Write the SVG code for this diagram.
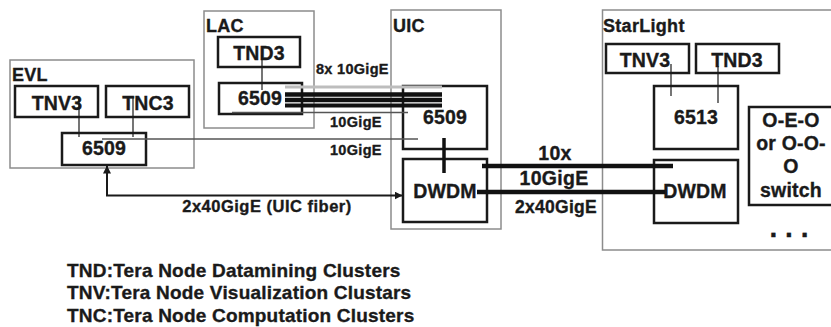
<svg xmlns="http://www.w3.org/2000/svg" width="831" height="327" viewBox="0 0 831 327">
<style>
text{font-family:"Liberation Sans",Arial,sans-serif;font-weight:bold;fill:#1a1a1a;stroke:#1a1a1a;stroke-width:0.35}
.site{fill:none;stroke:#8c8c8c;stroke-width:1.5}
.box{fill:#fff;stroke:#1a1a1a;stroke-width:2.5}
.lbl{font-size:19.5px;letter-spacing:0.2px;text-anchor:middle}
.title{font-size:18px;letter-spacing:0.3px}
.link{font-size:14.5px;letter-spacing:0.3px}
.big{font-size:19.5px;letter-spacing:0.3px;text-anchor:middle}
.leg{font-size:19px;letter-spacing:0.2px}
.thin{stroke:#1a1a1a;stroke-width:1.2;fill:none}
.gline{stroke:#555;stroke-width:1.5;fill:none}
.thick{stroke:#111;stroke-width:4.5;fill:none}
</style>
<defs>
<marker id="ah" viewBox="0 0 8 8" refX="8" refY="4" markerWidth="8" markerHeight="8" markerUnits="userSpaceOnUse" orient="auto-start-reverse">
<path d="M0,0 L8,4 L0,8 Z" fill="#1a1a1a"/>
</marker>
</defs>
<rect width="831" height="327" fill="#fff"/>

<g id="site-evl">
<rect class="site" x="10" y="60" width="184" height="108"/>
<text class="title" x="12" y="81">EVL</text>
</g>
<g id="site-lac">
<rect class="site" x="204" y="11" width="110" height="117"/>
<text class="title" x="206" y="32">LAC</text>
</g>
<g id="site-uic">
<rect class="site" x="391" y="10" width="110" height="219"/>
<text class="title" x="393" y="32">UIC</text>
</g>
<g id="site-starlight">
<path class="site" d="M840,10 H602.5 V250 H840"/>
<text class="title" x="603" y="32">StarLight</text>
</g>

<g id="evl-tnv3"><rect class="box" x="15" y="86" width="83" height="31"/><text class="lbl" x="57" y="110">TNV3</text></g>
<g id="evl-tnc3"><rect class="box" x="106" y="86" width="83" height="31"/><text class="lbl" x="148" y="110">TNC3</text></g>
<g id="evl-6509"><rect class="box" x="62" y="133" width="84" height="32"/><text class="lbl" x="104" y="155">6509</text></g>

<g id="lac-tnd3"><rect class="box" x="218" y="37" width="82" height="30"/><text class="lbl" x="259" y="60">TND3</text></g>
<g id="lac-6509"><rect class="box" x="219" y="83" width="83" height="31"/><text class="lbl" x="260" y="105">6509</text></g>

<g id="uic-6509"><rect class="box" x="403" y="86" width="84" height="63"/><text class="lbl" x="445" y="124">6509</text></g>
<g id="uic-dwdm"><rect class="box" x="403" y="159" width="84" height="63"/><text class="lbl" x="445" y="198">DWDM</text></g>

<g id="sl-tnv3"><rect class="box" x="606" y="44" width="83" height="29"/><text class="lbl" x="645" y="67">TNV3</text></g>
<g id="sl-tnd3"><rect class="box" x="696" y="44" width="83" height="29"/><text class="lbl" x="737" y="67">TND3</text></g>
<g id="sl-6513"><rect class="box" x="654" y="86" width="84" height="63"/><text class="lbl" x="696" y="124">6513</text></g>
<g id="sl-dwdm"><rect class="box" x="654" y="160" width="84" height="63"/><text class="lbl" x="695" y="198">DWDM</text></g>
<g id="sl-switch">
<rect class="box" x="749" y="107" width="90" height="98"/>
<text class="lbl" x="791" y="127">O-E-O</text>
<text class="lbl" x="791" y="150">or O-O-</text>
<text class="lbl" x="791" y="173">O</text>
<text class="lbl" x="791" y="197">switch</text>
<text x="789" y="237" style="font-size:28px;text-anchor:middle">. . .</text>
</g>

<g id="connectors">
<line class="thin" x1="79" y1="97" x2="79" y2="137"/>
<line class="thin" x1="133" y1="97" x2="133" y2="137"/>
<line class="thin" x1="262" y1="55" x2="262" y2="90"/>
<line class="thin" x1="671" y1="64" x2="671" y2="96"/>
<line class="thin" x1="718" y1="66" x2="718" y2="103"/>
<line class="gline" x1="102" y1="139" x2="418" y2="139"/>
<line class="gline" x1="232" y1="112.5" x2="408" y2="112.5"/>
<line x1="285" y1="87" x2="442" y2="87" stroke="#bdbdbd" stroke-width="3"/>
<line x1="285" y1="94.5" x2="442" y2="94.5" stroke="#111" stroke-width="4.5"/>
<line x1="285" y1="100" x2="442" y2="100" stroke="#111" stroke-width="4.5"/>
<line x1="285" y1="105.5" x2="442" y2="105.5" stroke="#111" stroke-width="4"/>
<line x1="444" y1="138" x2="444" y2="173" stroke="#111" stroke-width="3.5"/>
<line class="thick" x1="482" y1="166" x2="673" y2="166"/>
<line class="thick" x1="477" y1="192" x2="665" y2="192" stroke-width="5"/>
<path d="M107,165.5 V195.5 H402.5" fill="none" stroke="#1a1a1a" stroke-width="2" marker-start="url(#ah)" marker-end="url(#ah)"/>
<text class="link" x="316" y="74">8x 10GigE</text>
<text class="link" x="330" y="127">10GigE</text>
<text class="link" x="330" y="155">10GigE</text>
<text class="big" x="555" y="160">10x</text>
<text class="big" x="554" y="185">10GigE</text>
<text class="big" x="556" y="213" style="font-size:17.5px">2x40GigE</text>
<text x="267" y="212" style="font-size:16.5px;letter-spacing:0.5px;text-anchor:middle">2x40GigE (UIC fiber)</text>
</g>

<g id="legend">
<text class="leg" x="67" y="277">TND:Tera Node Datamining Clusters</text>
<text class="leg" x="67" y="299">TNV:Tera Node Visualization Clustars</text>
<text class="leg" x="67" y="322">TNC:Tera Node Computation Clusters</text>
</g>
</svg>
